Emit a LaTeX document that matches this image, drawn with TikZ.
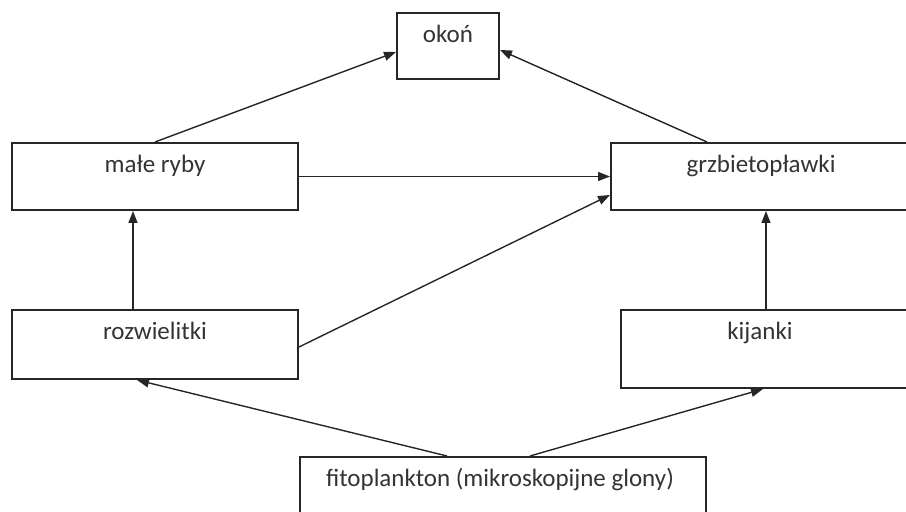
\documentclass[tikz,border=0pt]{standalone}
\usepackage{fontspec}
\setmainfont{Carlito}
\usetikzlibrary{arrows.meta}
\tikzset{
    box/.style={draw=black!85, line width=1pt, inner sep=0pt},
    boxtext/.style={anchor=base, yshift=-15.5pt, text=black!80, font=\fontsize{12.5}{15}\selectfont},
    link/.style={-{Triangle[length=6pt, width=4.5pt]}, line width=0.7pt, draw=black!85}
}
\begin{document}
\begin{tikzpicture}[x=0.5pt, y=-0.5pt]
    \useasboundingbox (0,0) rectangle (906,512);
    \clip (0,0) rectangle (906,512);

    \node[box, minimum width=51pt, minimum height=33pt, label={[boxtext]north:okoń}] (okon) at (448,46) {};
    \node[box, minimum width=143pt, minimum height=33.5pt, label={[boxtext]north:małe ryby}] (maleryby) at (155,176.5) {};
    \node[box, minimum width=150pt, minimum height=33.5pt, label={[boxtext]north:grzbietopławki}] (grzbiet) at (761,176.5) {};
    \node[box, minimum width=143pt, minimum height=34.5pt, label={[boxtext]north:rozwielitki}] (rozwielitki) at (155,344.5) {};
    \node[box, minimum width=145pt, minimum height=39pt, label={[boxtext, xshift=-3pt]north:kijanki}] (kijanki) at (766,349) {};
    \node[box, minimum width=203pt, minimum height=37pt, label={[boxtext, xshift=-1.5pt]north:fitoplankton (mikroskopijne glony)}] (fito) at (503,494) {};

    % who eats whom
    \draw[link] (maleryby.north) -- ([yshift=-3pt]okon.west);
    \draw[link] ([xshift=-27pt]grzbiet.north) -- ([yshift=-2pt]okon.east);
    \draw[link] (maleryby.east) -- (grzbiet.west);
    \draw[link] ([xshift=-11pt]rozwielitki.north) -- ([xshift=-11pt]maleryby.south);
    \draw[link] ([yshift=-1.25pt]rozwielitki.east) -- ([yshift=-9.25pt]grzbiet.west);
    \draw[link] (kijanki.north) -- (kijanki.north |- grzbiet.south);
    \draw[link] ([xshift=-28pt]fito.north) -- ([xshift=-9pt]rozwielitki.south);
    \draw[link] ([xshift=13.5pt]fito.north) -- ([xshift=-1.5pt]kijanki.south);
\end{tikzpicture}
\end{document}
